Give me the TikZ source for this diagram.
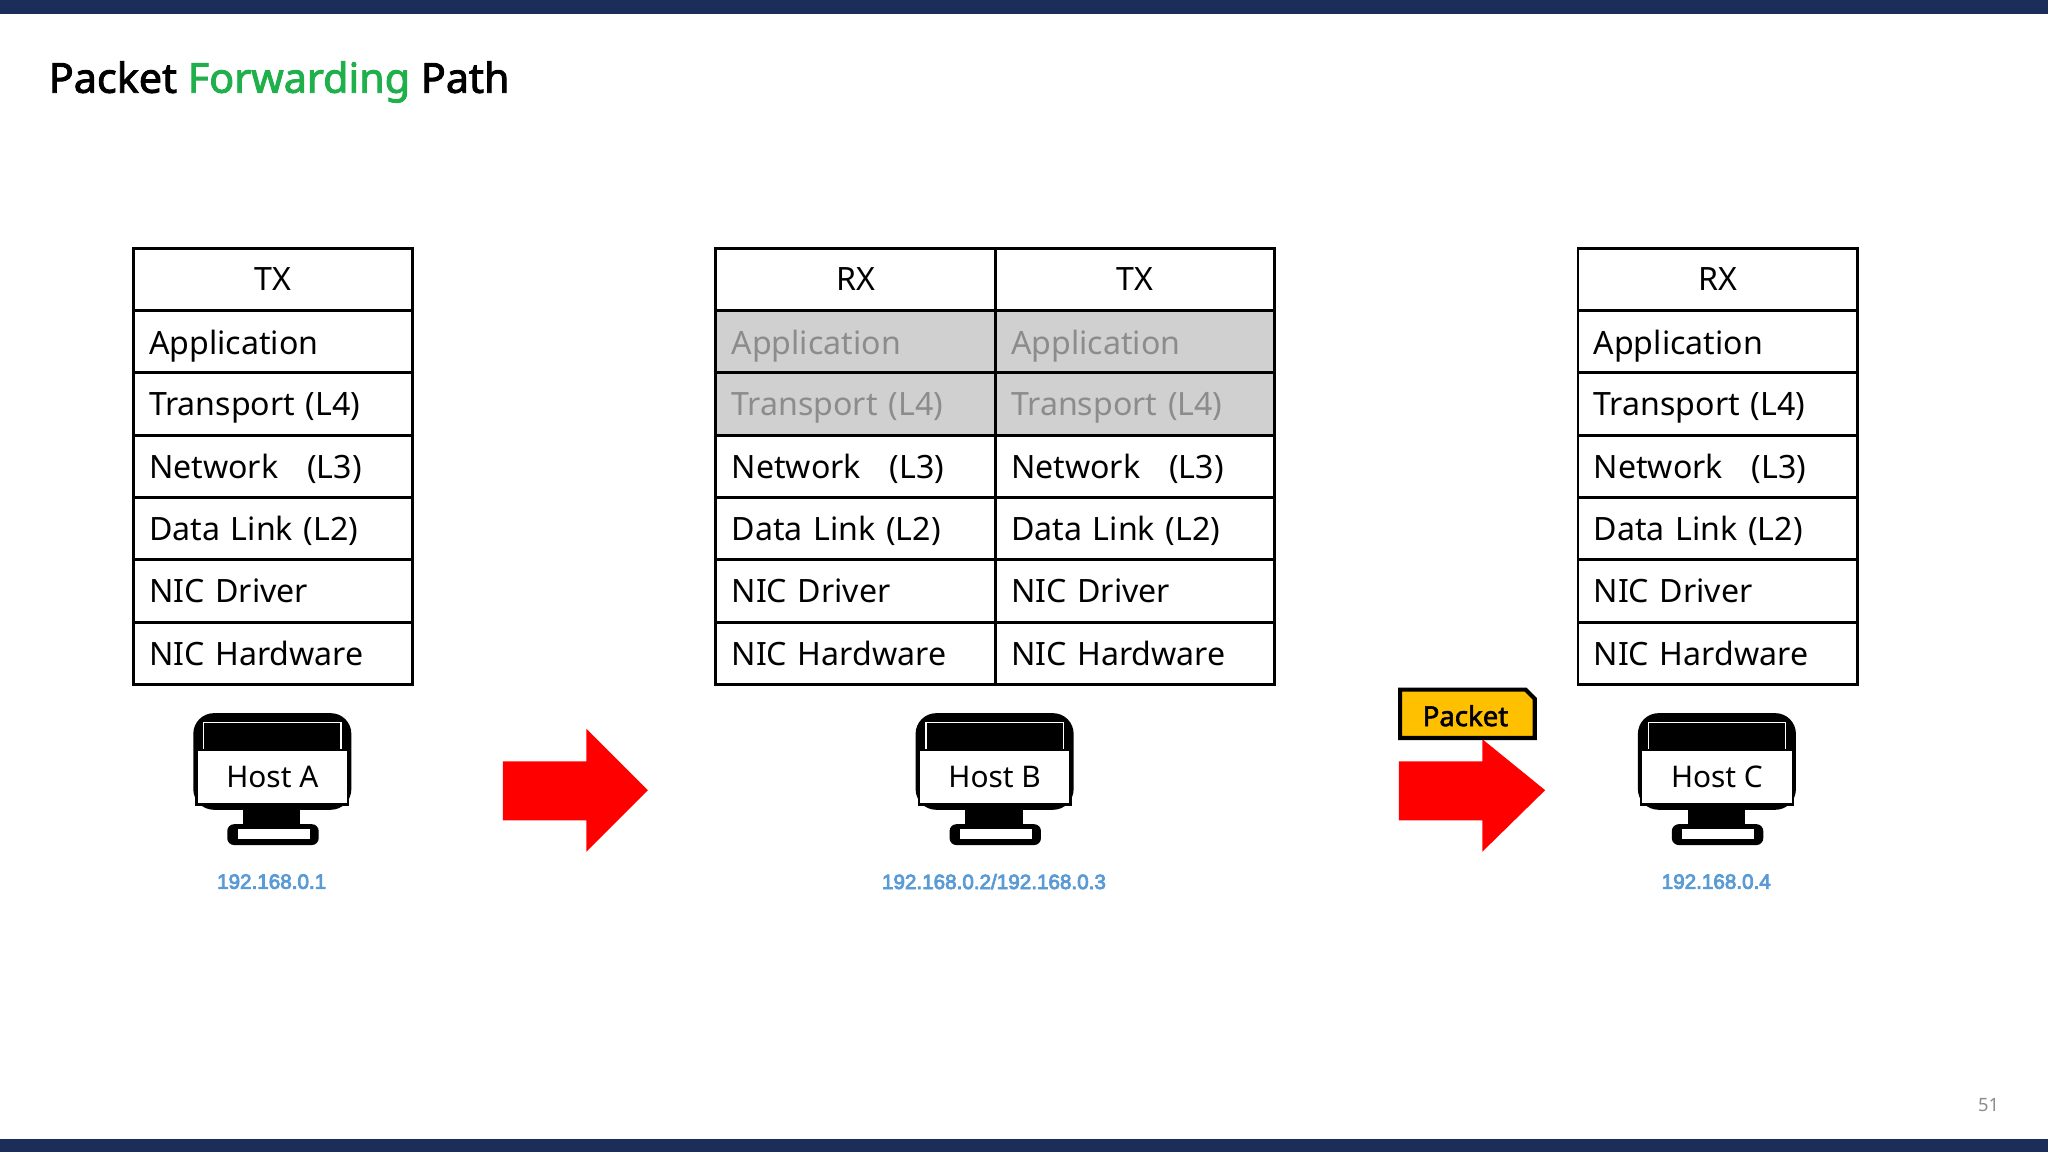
\documentclass[tikz,border=0pt]{standalone}
\usepackage{fontspec}
\setmainfont{Noto Sans}
\newfontfamily\bfnoto[FakeBold=2.2]{Noto Sans}
\newfontfamily\ipfont[FakeBold=4]{Liberation Sans}
\definecolor{navy}{HTML}{1B2E5A}
\definecolor{ttlgreen}{HTML}{1FAF4B}
\definecolor{ipblue}{HTML}{5B9BD5}
\definecolor{grayfill}{HTML}{D0D0D0}
\definecolor{graytxt}{HTML}{8C8C8C}
\definecolor{pktyellow}{HTML}{FFC000}
\begin{document}
\begin{tikzpicture}[x=0.02cm,y=-0.02cm,
  cell/.style={draw=black,line width=1.3pt,minimum width=214*0.02cm,minimum height=47.7*0.02cm,anchor=north west,inner sep=0pt,font=\fontsize{14}{16}\selectfont},
  lcell/.style={cell,text width=190*0.02cm,align=left,text depth=-1pt},
  hcell/.style={cell,align=center},
  gcell/.style={lcell,fill=grayfill,text=graytxt},
  iplbl/.style={font=\ipfont\fontsize{9}{10}\selectfont,text=ipblue},
  redarrow/.style={fill=red}]
\useasboundingbox (0,0) rectangle (1568,882);
\fill[white] (0,0) rectangle (1568,882);
\fill[navy] (0,0) rectangle (1568,11);
\fill[navy] (0,872) rectangle (1568,882);
\node[anchor=base west,inner sep=0pt,font=\bfnoto\fontsize{18}{22}\selectfont] (title) at (37,71) {Packet \textcolor{ttlgreen}{Forwarding} Path};
\node[anchor=base east,inner sep=0pt,text=graytxt,font=\fontsize{8}{9}\selectfont] (pg) at (1531,851) {51};
% stacks
\newcommand\stack[4]{%
  \node[hcell] (#1h) at (#2,189) {#3};
  \foreach \t [count=\i] in {Application,Transport (L4),Network\hspace{0.9em}(L3),Data Link (L2),NIC Driver,NIC Hardware}{
    \ifnum\i<3 \ifnum#4=1 \node[gcell] (#1r\i) at (#2,189+47.7*\i) {\t};\else\node[lcell] (#1r\i) at (#2,189+47.7*\i) {\t};\fi
    \else \node[lcell] (#1r\i) at (#2,189+47.7*\i) {\t};\fi}
}
\stack{a}{101}{TX}{0}
\stack{b}{547}{RX}{1}
\stack{c}{761}{TX}{1}
\stack{d}{1207}{RX}{0}
% monitors
\newcommand\monitor[3]{%
  \begin{scope}[shift={(#1,0)}]
  \fill[black,rounded corners=9] (-60,546) rectangle (61,620);
  \draw[white,line width=0.6pt] (-52,553) rectangle (53,614);
  \fill[black] (-49,556) rectangle (50,570);
  \node[draw=black,fill=white,line width=1pt,minimum width=116*0.02cm,minimum height=42*0.02cm,inner sep=0pt,font=\fontsize{13}{15}\selectfont] (#2) at (0.5,595) {#3};
  \fill[black] (-22,618) rectangle (22,636);
  \fill[white] (-16,620) rectangle (16,630);
  \fill[black] (-19,620) rectangle (19,631);
  \fill[black,rounded corners=3] (-34,631) rectangle (36,647);
  \fill[white] (-26,635) rectangle (29,642);
  \end{scope}}
\monitor{208}{hostA}{Host A}
\monitor{761}{hostB}{Host B}
\monitor{1314}{hostC}{Host C}
\node[iplbl] (ipA) at (208,675) {192.168.0.1};
\node[iplbl] (ipB) at (761,675) {192.168.0.2/192.168.0.3};
\node[iplbl] (ipC) at (1314,675) {192.168.0.4};
% arrows
\fill[redarrow] (385,583) -- (449,583) -- (449,558) -- (496,605) -- (449,652) -- (449,628) -- (385,628) -- cycle;
\fill[redarrow] (1071,583) -- (1135,583) -- (1135,566) -- (1183,605) -- (1135,652) -- (1135,628) -- (1071,628) -- cycle;
% packet
\draw[fill=pktyellow,line width=1.8pt] (1072,528) -- (1168,528) -- (1175,535) -- (1175,565) -- (1072,565) -- cycle;
\node[font=\bfnoto\fontsize{12}{14}\selectfont,inner sep=0pt] (pkt) at (1122,548) {Packet};
\end{tikzpicture}
\end{document}
